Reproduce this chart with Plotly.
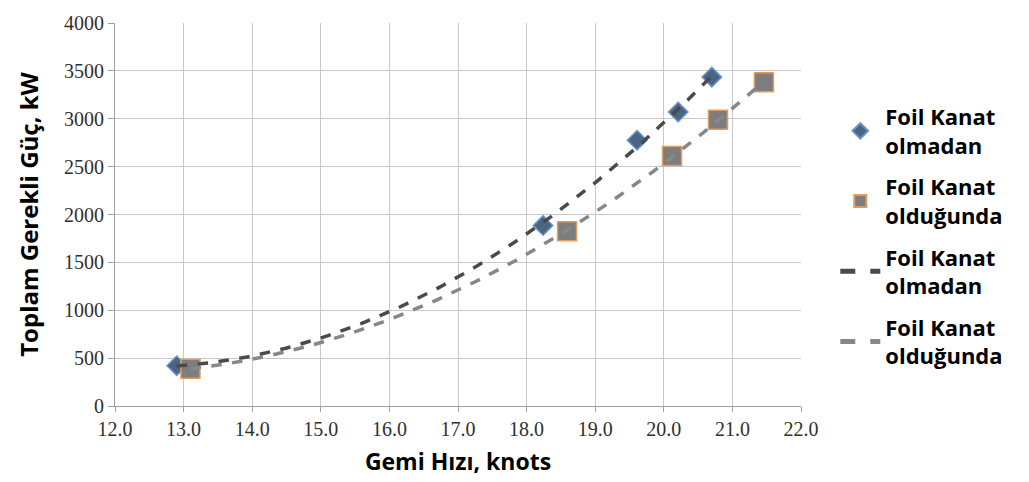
import numpy as np
import plotly.graph_objects as go

# Data
speed_without = [12.90, 18.24, 19.61, 20.21, 20.70]
power_without = [420, 1885, 2775, 3070, 3435]
speed_with = [13.10, 18.59, 20.12, 20.79, 21.46]
power_with = [390, 1825, 2610, 2990, 3380]
name_without = "Foil Kanat<br>olmadan"
name_with = "Foil Kanat<br>olduğunda"
x_ticks = [12, 13, 14, 15, 16, 17, 18, 19, 20, 21, 22]
y_ticks = [0, 500, 1000, 1500, 2000, 2500, 3000, 3500, 4000]

def trend(xs, ys):
    c = np.polyfit(xs, ys, 2)
    xx = np.linspace(min(xs), max(xs), 100)
    return xx, np.polyval(c, xx)

fig = go.Figure()
fig.add_trace(go.Scatter(x=speed_without, y=power_without, mode="markers", name=name_without,
                         legendgroup="a",
                         marker=dict(symbol="diamond", size=15, color="#4a6584",
                                     line=dict(color="#6a94c4", width=1.5))))
fig.add_trace(go.Scatter(x=speed_with, y=power_with, mode="markers", name=name_with,
                         legendgroup="b",
                         marker=dict(symbol="square", size=19, color="#7d7d7f",
                                     line=dict(color="#e39b5c", width=1.5))))
tx, ty = trend(speed_without, power_without)
fig.add_trace(go.Scatter(x=tx, y=ty, mode="lines", name=name_without, legendgroup="c",
                         line=dict(color="#4a4a4a", width=3.5, dash="dash")))
tx2, ty2 = trend(speed_with, power_with)
fig.add_trace(go.Scatter(x=tx2, y=ty2, mode="lines", name=name_with, legendgroup="d",
                         line=dict(color="#878787", width=3.5, dash="dash")))

fig.update_layout(
    width=1029, height=482,
    margin=dict(l=115, r=228, t=15, b=75),
    paper_bgcolor="white", plot_bgcolor="white",
    legend=dict(x=1.05, y=0.81, yanchor="top", xanchor="left",
                font=dict(family="Open Sans", size=22, color="black", weight="bold"),
                tracegroupgap=10, itemwidth=40, itemsizing="constant"),
    showlegend=True,
)
fig.update_xaxes(range=[12, 22], tickvals=x_ticks, ticktext=[f"{v:.1f}" for v in x_ticks],
                 showgrid=True, gridcolor="#c8c8c8", gridwidth=1,
                 showline=True, linecolor="#a0a0a0", ticks="outside", ticklen=5, tickcolor="#a0a0a0",
                 tickfont=dict(family="Liberation Serif", size=20, color="#303030"),
                 title=dict(text="Gemi Hızı, knots", standoff=14,
                            font=dict(family="Open Sans", size=23, color="black", weight="bold")),
                 zeroline=False)
fig.update_yaxes(range=[0, 4000], tickvals=y_ticks,
                 showgrid=True, gridcolor="#c8c8c8", gridwidth=1,
                 showline=True, linecolor="#a0a0a0", ticks="outside", ticklen=6, tickcolor="#a0a0a0",
                 tickfont=dict(family="Liberation Serif", size=20, color="#303030"),
                 title=dict(text="Toplam Gerekli Güç, kW", standoff=18,
                            font=dict(family="Open Sans", size=24, color="black", weight="bold")),
                 zeroline=False)
fig.write_html("out.html")
